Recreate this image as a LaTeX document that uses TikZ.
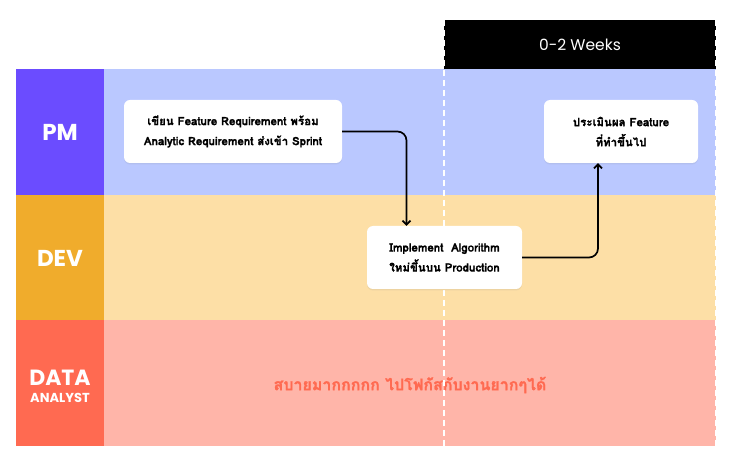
\documentclass[tikz,border=0pt]{standalone}
\usepackage{fontspec}
\setmainfont{Poppins}
\newfontfamily\thaifont[Script=Thai, BoldFont={Loma Bold}, BoldFeatures={FakeBold=1.2}]{Loma}
\usetikzlibrary{arrows.meta,shadows}
\definecolor{pmdark}{HTML}{6B4CFF}
\definecolor{pmlight}{HTML}{BAC8FF}
\definecolor{devdark}{HTML}{F0AC2C}
\definecolor{devlight}{HTML}{FDDFA6}
\definecolor{dadark}{HTML}{FF6A51}
\definecolor{dalight}{HTML}{FFB5A9}
\tikzset{
 lanelabel/.style={inner sep=0pt, text=white, font=\bfseries},
 taskbox/.style={fill=white, rounded corners=6pt, align=center, inner sep=0pt,
   minimum height=63pt, drop shadow={opacity=0.12, shadow xshift=0pt, shadow yshift=-1.5pt},
   font=\thaifont\bfseries\fontsize{11.5}{20}\selectfont},
 flow/.style={draw=black, line width=1.7pt, rounded corners=9pt, -{Straight Barb[length=4pt,width=8pt]}},
 timeline/.style={draw=white, line width=2pt, dash pattern=on 6pt off 4pt}
}
\begin{document}
\begin{tikzpicture}[x=1pt,y=-1pt]
 \useasboundingbox (0,0) rectangle (734,462);
 % lanes
 \fill[pmlight] (104,69) rectangle (716,195);
 \fill[devlight] (104,195) rectangle (716,320);
 \fill[dalight] (104,320) rectangle (716,446);
 \fill[pmdark] (16,69) rectangle (104,195);
 \fill[devdark] (16,195) rectangle (104,320);
 \fill[dadark] (16,320) rectangle (104,446);
 \node[lanelabel, font=\bfseries\fontsize{23}{23}\selectfont] (pm) at (60,132) {PM};
 \node[lanelabel, font=\bfseries\fontsize{23}{23}\selectfont] (dev) at (60,258) {DEV};
 \node[lanelabel, font=\bfseries\fontsize{22}{22}\selectfont] (data) at (60,378) {DATA};
 \node[lanelabel, font=\bfseries\fontsize{13}{13}\selectfont] (analyst) at (60,397.5) {ANALYST};
 \node[text=dadark, font=\thaifont\bfseries\fontsize{16}{16}\selectfont] (relax) at (410,385) {สบายมากกกกก ไปโฟกัสกับงานยากๆได้};
 % period
 \fill[black] (444,20) rectangle (716,69);
 \node[text=white, font=\fontsize{15.5}{15.5}\selectfont] (weeks) at (580,44.5) {0-2 Weeks};
 \draw[timeline] (444,20) -- (444,446);
 \draw[timeline] (716,20) -- (716,446);
 % tasks
 \node[taskbox, minimum width=218pt] (spec) at (233,131.5) {เขียน Feature Requirement พร้อม\\Analytic Requirement ส่งเข้า Sprint};
 \node[taskbox, minimum width=155pt] (impl) at (444.5,257.5) {Implement\ \ Algorithm\\ใหม่ขึ้นบน Production};
 \node[taskbox, minimum width=154pt] (eval) at (621,131.5) {ประเมินผล Feature\\ที่ทำขึ้นไป};
 \draw[flow] (spec.east) -| ([xshift=-38pt]impl.north);
 \draw[flow] (impl.east) -| ([xshift=-23pt]eval.south);
\end{tikzpicture}
\end{document}
